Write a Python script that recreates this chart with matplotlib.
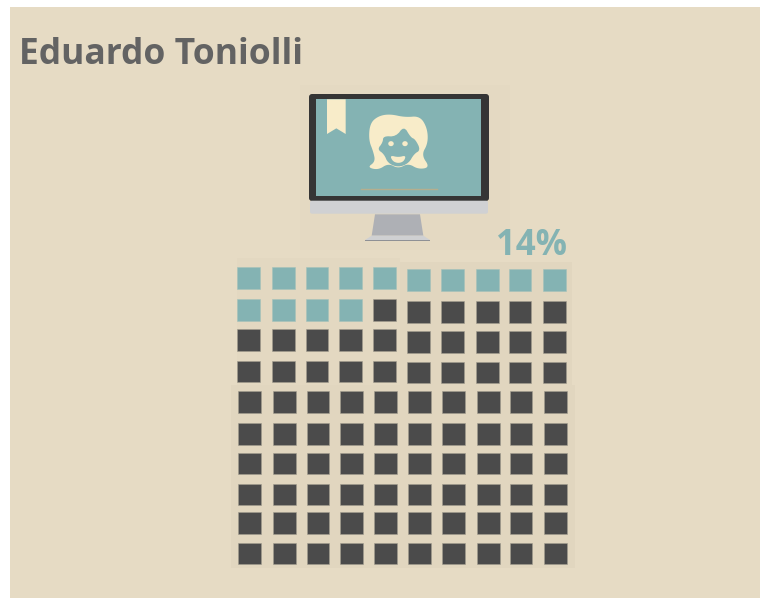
import matplotlib
matplotlib.use('Agg')
from matplotlib import pyplot as plt
from matplotlib.patches import Rectangle, Polygon, Ellipse, FancyBboxPatch

name = 'Eduardo Toniolli'
percent = 14
rows_total = 10
cols_total = 10

# pixel layout of the pictogram, it is a pasted image so the cells are not regular
col_left_a = [237, 272, 306, 339, 373, 407, 441, 476, 509, 543]
col_left_b = [238, 273, 307, 340, 374, 408, 442, 477, 510, 544]
row_top_left = [267, 299, 329, 361, 391, 423, 453, 484, 512, 543]
row_top_right = [269, 301, 331, 362, 391, 423, 453, 484, 512, 543]
row_h = [22, 22, 22, 21, 22, 22, 21, 21, 22, 21]
col_w = [23, 23, 22, 23, 23, 23, 23, 23, 22, 23]

BG = '#e6dbc4'
PATCH = '#e1d6bf'
TEAL = '#84b3b3'
DARK = '#4b4b4b'
CREAM = '#f8ecc9'

fig = plt.figure(figsize=(7.6, 5.98), dpi=100, facecolor='white')
ax = fig.add_axes([0, 0, 1, 1])
ax.set_xlim(0, 760)
ax.set_ylim(598, 0)
ax.axis('off')

ax.add_patch(Rectangle((10, 7), 750, 591, fc=BG, ec='none'))
ax.add_patch(Rectangle((231, 385), 344, 183, fc=PATCH, ec='none'))
ax.add_patch(Rectangle((400, 262), 172, 123, fc=PATCH, ec='none'))
ax.add_patch(Rectangle((237, 258), 163, 127, fc='#e3d8c1', ec='none'))
ax.add_patch(Rectangle((300, 85), 210, 165, fc='#e4d9c2', ec='none'))

ax.text(19, 64.5, name, fontsize=25.5, fontweight='bold', family='Open Sans',
        color='#636363', ha='left', va='baseline')
ax.text(567, 255, f'{percent}%', fontsize=25, fontweight='bold', family='Open Sans',
        color=TEAL, ha='right', va='baseline')

# waffle
for r in range(rows_total):
    for c in range(cols_total):
        filled = r * cols_total + c < percent
        if r >= 4:
            x = col_left_b[c]
            y = row_top_left[r]
        else:
            x = col_left_a[c]
            y = row_top_left[r] if c < 5 else row_top_right[r]
        color = TEAL if filled else DARK
        ax.add_patch(Rectangle((x, y), col_w[c], row_h[r], fc=color, ec='#a39d8f' if not filled else '#a5c2ba', lw=0.4))


def zoomed(pts):
    return [(290 + x / 3, 80 + y / 3) for x, y in pts]


def smooth(pts, n=3):
    # corner cutting, closed outline
    for _ in range(n):
        out = []
        for i, (x0, y0) in enumerate(pts):
            x1, y1 = pts[(i + 1) % len(pts)]
            out.append((0.75 * x0 + 0.25 * x1, 0.75 * y0 + 0.25 * y1))
            out.append((0.25 * x0 + 0.75 * x1, 0.25 * y0 + 0.75 * y1))
        pts = out
    return pts


# monitor
ax.add_patch(FancyBboxPatch((311, 96), 176, 103, boxstyle='round,pad=2,rounding_size=3',
                            fc='#353535', ec='none'))
ax.add_patch(Rectangle((316.3, 99.3), 164.7, 96.7, fc=TEAL, ec='none'))
ax.add_patch(FancyBboxPatch((310, 200.7), 178, 13, boxstyle='round,pad=0,rounding_size=2',
                            fc='#d0d1d3', ec='none'))
ax.add_patch(Polygon(zoomed([(255, 403), (390, 403), (400, 467), (245, 467)]), fc='#aeb0b5', ec='none'))
ax.add_patch(Polygon(zoomed([(245, 467), (400, 467), (420, 480), (225, 480)]), fc='#cfd0d2', ec='none'))
ax.add_patch(Rectangle((365, 239.5), 65, 1.5, fc='#8e9095', ec='none'))
ax.add_patch(Polygon(zoomed([(111, 58), (167, 58), (167, 162), (139, 145), (111, 162)]), fc=CREAM, ec='none'))
ax.plot([360.7, 436.7], [188.7, 188.7], color='#b5ae8e', lw=1)

# face
hair = [(232, 262), (256, 245), (250, 215), (236, 180), (240, 130), (265, 108), (300, 102),
        (345, 112), (390, 108), (412, 145), (414, 190), (394, 225), (420, 262), (385, 268),
        (355, 250), (325, 266), (295, 250), (265, 270)]
ax.add_patch(Polygon(zoomed(smooth(hair)), fc=CREAM, ec='none'))
face = [(262, 208), (278, 188), (280, 168), (318, 170), (342, 138), (362, 172), (376, 178),
        (392, 210), (372, 222), (356, 250), (325, 262), (294, 250), (282, 222)]
ax.add_patch(Polygon(zoomed(smooth(face, 2)), fc=TEAL, ec='none'))
for ex in [303, 345]:
    cx, cy = zoomed([(ex, 191)])[0]
    ax.add_patch(Ellipse((cx, cy), 5.5, 5, fc=CREAM, ec='none'))
mouth = [(300, 226), (325, 232), (348, 226), (342, 244), (325, 250), (308, 244)]
ax.add_patch(Polygon(zoomed(smooth(mouth, 2)), fc=CREAM, ec='none'))

fig.savefig('out.png', dpi=100, facecolor='white')
